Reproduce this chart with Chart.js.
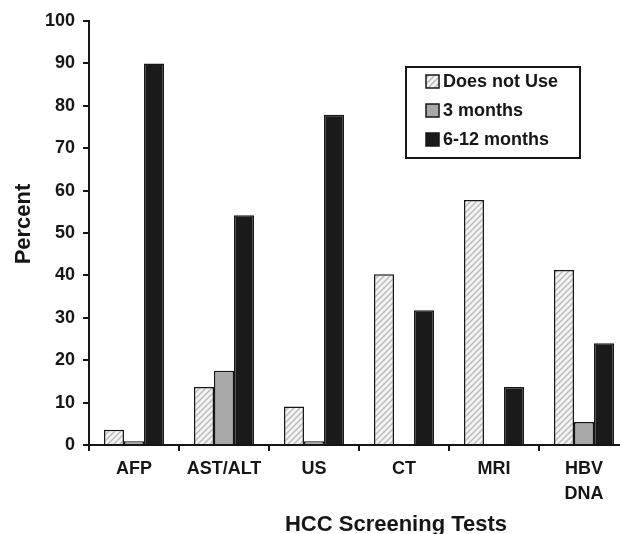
<!DOCTYPE html>
<html>
<head>
<meta charset="utf-8">
<script src="https://cdn.jsdelivr.net/npm/chart.js@4.4.1/dist/chart.umd.min.js"></script>
<style>
  html, body { margin: 0; padding: 0; background: #fff; overflow: hidden; width: 620px; height: 534px; }
  canvas { display: block; }
</style>
</head>
<body>
<canvas id="c" width="640" height="534"></canvas>
<script>
const categories = ["AFP", "AST/ALT", "US", "CT", "MRI", ["HBV", "DNA"]];
const seriesNames = ["Does not Use", "3 months", "6-12 months"];
const doesNotUse = [3.6, 13.7, 9.1, 40.3, 57.8, 41.3];
const threeMonths = [0.9, 17.5, 0.9, 0, 0, 5.4];
const sixTwelveMonths = [90.0, 54.2, 77.9, 31.8, 13.7, 24.0];
const yTicks = [0, 10, 20, 30, 40, 50, 60, 70, 80, 90, 100];
const xTitle = "HCC Screening Tests";
const yTitle = "Percent";

const FONT = "'Liberation Sans', Arial, Helvetica, sans-serif";
const INK = "#161616";

function makeHatch() {
  const s = 6;
  const c = document.createElement('canvas');
  c.width = s; c.height = s;
  const g = c.getContext('2d');
  g.fillStyle = '#f3f3f3';
  g.fillRect(0, 0, s, s);
  g.strokeStyle = '#b9b9b9';
  g.lineWidth = 1.4;
  g.beginPath();
  g.moveTo(0, s); g.lineTo(s, 0);
  g.moveTo(-s / 2, s / 2); g.lineTo(s / 2, -s / 2);
  g.moveTo(s / 2, s * 1.5); g.lineTo(s * 1.5, s / 2);
  g.stroke();
  return g.createPattern(c, 'repeat');
}
const hatch = makeHatch();
const fills = [hatch, '#a9a9a9', '#1a1a1a'];

const overlay = {
  id: 'overlay',
  afterDraw(chart) {
    const ctx = chart.ctx;
    ctx.save();
    // axis titles
    ctx.fillStyle = INK;
    ctx.font = "bold 22px " + FONT;
    ctx.textAlign = 'center';
    ctx.textBaseline = 'alphabetic';
    ctx.fillText(xTitle, 396, 531);
    ctx.save();
    ctx.translate(30, 224);
    ctx.rotate(-Math.PI / 2);
    ctx.fillText(yTitle, 0, 0);
    ctx.restore();

    // legend
    const bx = 406, by = 67, bw = 174, bh = 91;
    ctx.fillStyle = '#fff';
    ctx.fillRect(bx, by, bw, bh);
    ctx.strokeStyle = INK;
    ctx.lineWidth = 2;
    ctx.strokeRect(bx, by, bw, bh);
    ctx.font = "bold 18px " + FONT;
    ctx.textAlign = 'left';
    ctx.textBaseline = 'middle';
    chart.data.datasets.forEach((ds, i) => {
      const cy = 81.5 + i * 29;
      ctx.fillStyle = ds.backgroundColor;
      ctx.fillRect(426, cy - 6.5, 13, 13);
      ctx.lineWidth = 1.5;
      ctx.strokeStyle = INK;
      ctx.strokeRect(426, cy - 6.5, 13, 13);
      ctx.fillStyle = INK;
      ctx.fillText(ds.label, 443, cy + 1);
    });
    ctx.restore();
  }
};

new Chart(document.getElementById('c'), {
  type: 'bar',
  data: {
    labels: categories,
    datasets: [doesNotUse, threeMonths, sixTwelveMonths].map((d, i) => ({
      label: seriesNames[i],
      data: d,
      backgroundColor: fills[i],
      borderColor: INK,
      borderWidth: 1.5,
      categoryPercentage: 0.667,
      barPercentage: 1.0
    }))
  },
  options: {
    responsive: false,
    animation: false,
    devicePixelRatio: 1,
    layout: { padding: { top: 21, right: 11, left: 0, bottom: 0 } },
    plugins: { legend: { display: false }, tooltip: { enabled: false } },
    scales: {
      x: {
        grid: { display: true, drawOnChartArea: false, drawTicks: true, tickLength: 6, color: INK, lineWidth: 2, offset: true },
        border: { color: INK, width: 2 },
        ticks: { color: INK, font: { family: FONT, size: 18, weight: 'bold', lineHeight: 1.39 }, padding: 6, maxRotation: 0, autoSkip: false },
        afterFit(s) { s.height = 89; }
      },
      y: {
        min: 0, max: 100,
        afterBuildTicks(s) { s.ticks = yTicks.map(v => ({ value: v })); },
        grid: { display: true, drawOnChartArea: false, drawTicks: true, tickLength: 6, color: INK, lineWidth: 2 },
        border: { color: INK, width: 2 },
        ticks: { color: INK, font: { family: FONT, size: 18, weight: 'bold' }, padding: 8 },
        afterFit(s) { s.width = 89; }
      }
    }
  },
  plugins: [overlay]
});
</script>
</body>
</html>
